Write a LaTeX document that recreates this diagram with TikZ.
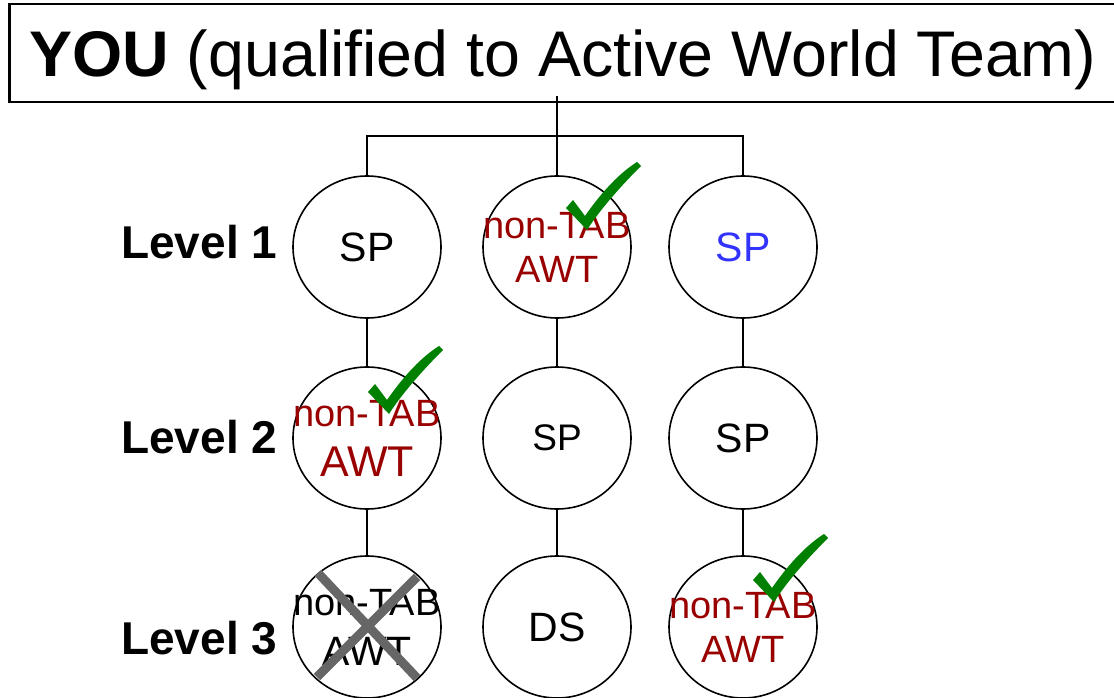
\documentclass[tikz,border=0pt]{standalone}
\usepackage{fontspec}
\setmainfont{Liberation Sans}
\usetikzlibrary{shapes.geometric,calc}
\definecolor{awtred}{HTML}{990000}
\definecolor{spblue}{HTML}{3333FF}
\definecolor{okgreen}{HTML}{008000}
\definecolor{crossgray}{HTML}{666666}

\begin{document}
\begin{tikzpicture}[x=1pt,y=-1pt,
  lvl/.style={draw=black, ellipse, line width=1.6pt, minimum width=148pt, minimum height=142pt, inner sep=0pt},
  conn/.style={draw=black, line width=1.6pt},
  sp/.style={font=\fontsize{41}{44}\selectfont, inner sep=0pt},
  awt/.style={font=\fontsize{38}{44}\selectfont, align=center, inner sep=0pt, text=awtred},
  lvltxt/.style={font=\fontsize{46}{50}\selectfont\bfseries, anchor=base west, inner sep=0pt},
  okmark/.pic={\fill[okgreen] (2,2) -- (-19,-20) -- (-12,-28) -- (0,-12) .. controls (18,-38) and (36,-56) .. (52,-66) -- (56,-62) .. controls (38,-44) and (16,-20) .. (2,2) -- cycle;}]
\useasboundingbox (0,0) rectangle (1114,698);
\node[draw=black, line width=2.5pt, anchor=west, minimum height=98pt, text width=1076pt, text height=58pt, text depth=10pt, inner xsep=20pt, align=flush left, font=\fontsize{64.5}{70}\selectfont] (you) at (8,53) {\textbf{YOU} (qualified to Active World Team)};

% level names
\node[lvltxt] (lv1) at (121,258) {Level 1};
\node[lvltxt] (lv2) at (121,453) {Level 2};
\node[lvltxt] (lv3) at (121,654) {Level 3};

% level 1
\node[lvl, label={[sp, name=a1t]center:SP}] (a1) at (367,247) {};
\node[lvl, label={[awt, name=b1t]center:{non-TAB\\AWT}}] (b1) at (557,247) {};
\node[lvl, label={[sp, text=spblue, name=c1t]center:SP}] (c1) at (743,247) {};
% level 2
\node[lvl, label={[awt, font=\fontsize{38}{50}\selectfont, name=a2t]center:{non-TAB\\{\fontsize{43}{50}\selectfont AWT}}}] (a2) at (367,438) {};
\node[lvl, label={[sp, font=\fontsize{37}{40}\selectfont, name=b2t]center:SP}] (b2) at (557,438) {};
\node[lvl, label={[sp, name=c2t]center:SP}] (c2) at (743,438) {};
% level 3
\node[lvl, label={[awt, text=black, font=\fontsize{38}{50}\selectfont, name=a3t]center:{non-TAB\\{\fontsize{41}{50}\selectfont AWT}}}] (a3) at (367,627) {};
\node[lvl, label={[sp, name=b3t]center:DS}] (b3) at (557,627) {};
\node[lvl, label={[awt, name=c3t]center:{non-TAB\\AWT}}] (c3) at (743,627) {};

\coordinate (root) at (557,96);
\coordinate (fork) at (557,136);
\draw[conn] (root) -- (fork);
\draw[conn] (a1.north) |- (fork) -| (c1.north);
\draw[conn] (fork) -- (b1.north);
\draw[conn] (a1) -- (a2);
\draw[conn] (a2) -- (a3);
\draw[conn] (b1) -- (b2);
\draw[conn] (b2) -- (b3);
\draw[conn] (c1) -- (c2);
\draw[conn] (c2) -- (c3);

% ticks and cross
\pic at (585,228) {okmark};
\pic at (387,412) {okmark};
\pic at (772,600) {okmark};
\draw[crossgray, line width=9pt] ($(a3)+(-49,-54)$) -- ($(a3)+(50,51)$);
\draw[crossgray, line width=9pt] ($(a3)+(50,-50)$) -- ($(a3)+(-50,50)$);
\end{tikzpicture}
\end{document}
